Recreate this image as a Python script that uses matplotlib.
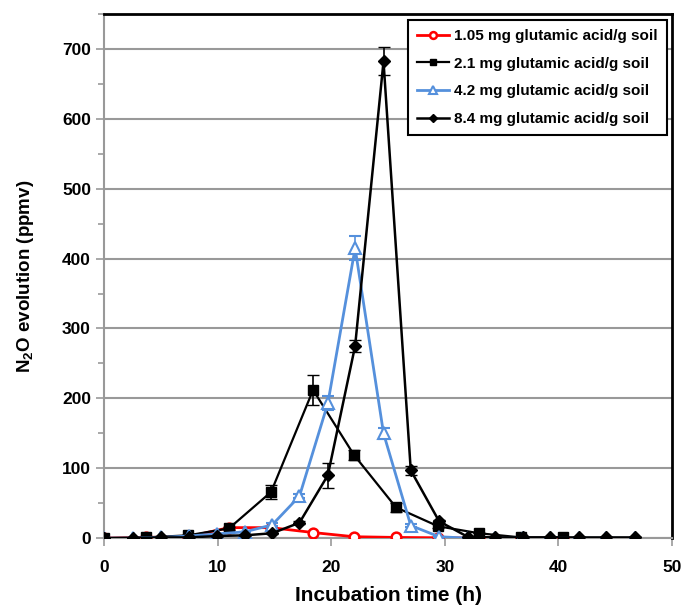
import matplotlib
matplotlib.use("Agg")
import matplotlib.pyplot as plt
from matplotlib.ticker import MultipleLocator

plt.rcParams['font.family'] = ['Liberation Sans', 'DejaVu Sans']
plt.rcParams['font.weight'] = 'bold'
plt.rcParams['mathtext.fontset'] = 'custom'
plt.rcParams['mathtext.rm'] = 'Liberation Sans:bold'
plt.rcParams['mathtext.default'] = 'rm'

# sampling times (h)
time_a = [0, 3.7, 7.4, 11.0, 14.7, 18.4, 22.0, 25.7, 29.4, 33.0, 36.7, 40.4]
time_b = [0, 2.5, 5.0, 7.5, 9.9, 12.4, 14.8, 17.2, 19.7, 22.1,
          24.6, 27.0, 29.5, 32.0, 34.4, 36.9, 39.3, 41.8, 44.2, 46.7]

# N2O evolution (ppmv)
n2o_105 = [0, 1, 2, 15, 15, 8, 2, 1, 0.5, 0, 0, 0]
n2o_21 = [0, 1, 4, 14, 66, 212, 119, 44, 17, 7, 1, 1]
err_21 = [0, 0, 0, 2, 10, 22, 7, 6, 3, 0, 0, 0]
n2o_42 = [0, 0, 1, 3, 6, 9, 19, 60, 193, 415, 150, 18, 2, 0, 0, 0, 0, 0, 0, 0]
err_42 = [0, 0, 0, 0, 0, 0, 2, 3, 10, 17, 8, 2, 0, 0, 0, 0, 0, 0, 0, 0]
n2o_84 = [0, 0, 1, 1, 3, 4, 7, 22, 90, 275, 682, 97, 24, 2, 1, 1, 1, 1, 1, 1]
err_84 = [0, 0, 0, 0, 0, 0, 1, 2, 18, 9, 20, 6, 2, 0, 0, 0, 0, 0, 0, 0]

labels = ['1.05 mg glutamic acid/g soil', '2.1 mg glutamic acid/g soil',
          '4.2 mg glutamic acid/g soil', '8.4 mg glutamic acid/g soil']

blue = '#5590dc'

fig = plt.figure(figsize=(6.85, 6.06), dpi=100)
ax = fig.add_axes([0.152, 0.112, 0.829, 0.865])

l1, = ax.plot(time_a, n2o_105, color='red', lw=2, marker='o', ms=7,
              mfc='white', mec='red', mew=1.8, zorder=3)
c2 = ax.errorbar(time_a, n2o_21, yerr=err_21, color='black', lw=1.6, marker='s', ms=7,
                 capsize=4, elinewidth=1.2, zorder=4)
c3 = ax.errorbar(time_b, n2o_42, yerr=err_42, color=blue, lw=2, marker='^', ms=8,
                 mfc='white', mec=blue, mew=1.5, capsize=4, elinewidth=1.2, zorder=5)
c4 = ax.errorbar(time_b, n2o_84, yerr=err_84, color='black', lw=1.8, marker='D', ms=6,
                 capsize=4, elinewidth=1.2, zorder=6)

ax.set_xlim(0, 50)
ax.set_ylim(0, 750)
ax.set_yticks(range(0, 701, 100))
ax.yaxis.set_minor_locator(MultipleLocator(50))
ax.xaxis.set_major_locator(MultipleLocator(10))
ax.grid(True, axis='y', which='major', color='#999999', lw=1.5)
ax.set_axisbelow(True)

for side in ['left', 'bottom']:
    ax.spines[side].set_color('#999999')
    ax.spines[side].set_linewidth(1.5)
for side in ['top', 'right']:
    ax.spines[side].set_color('black')
    ax.spines[side].set_linewidth(2)
ax.tick_params(which='both', direction='out', color='#999999', width=1.2)
ax.tick_params(which='major', length=6, labelsize=12.5)
ax.tick_params(axis='x', which='major', pad=10)
ax.tick_params(which='minor', length=4)

ax.set_xlabel('Incubation time (h)', fontsize=15, fontweight='bold', labelpad=8)
ax.set_ylabel('N$_2$O evolution (ppmv)', fontsize=13.5, fontweight='bold', labelpad=19)

leg = ax.legend([l1, c2[0], c3[0], c4[0]], labels, loc='upper right',
                bbox_to_anchor=(0.991, 0.989), borderaxespad=0, fontsize=11,
                markerscale=0.7, fancybox=False, edgecolor='black', framealpha=1,
                handlelength=2.1, handletextpad=0.3, borderpad=0.6,
                labelspacing=0.9)
leg.get_frame().set_linewidth(1.5)

fig.savefig('out.png', dpi=100)
